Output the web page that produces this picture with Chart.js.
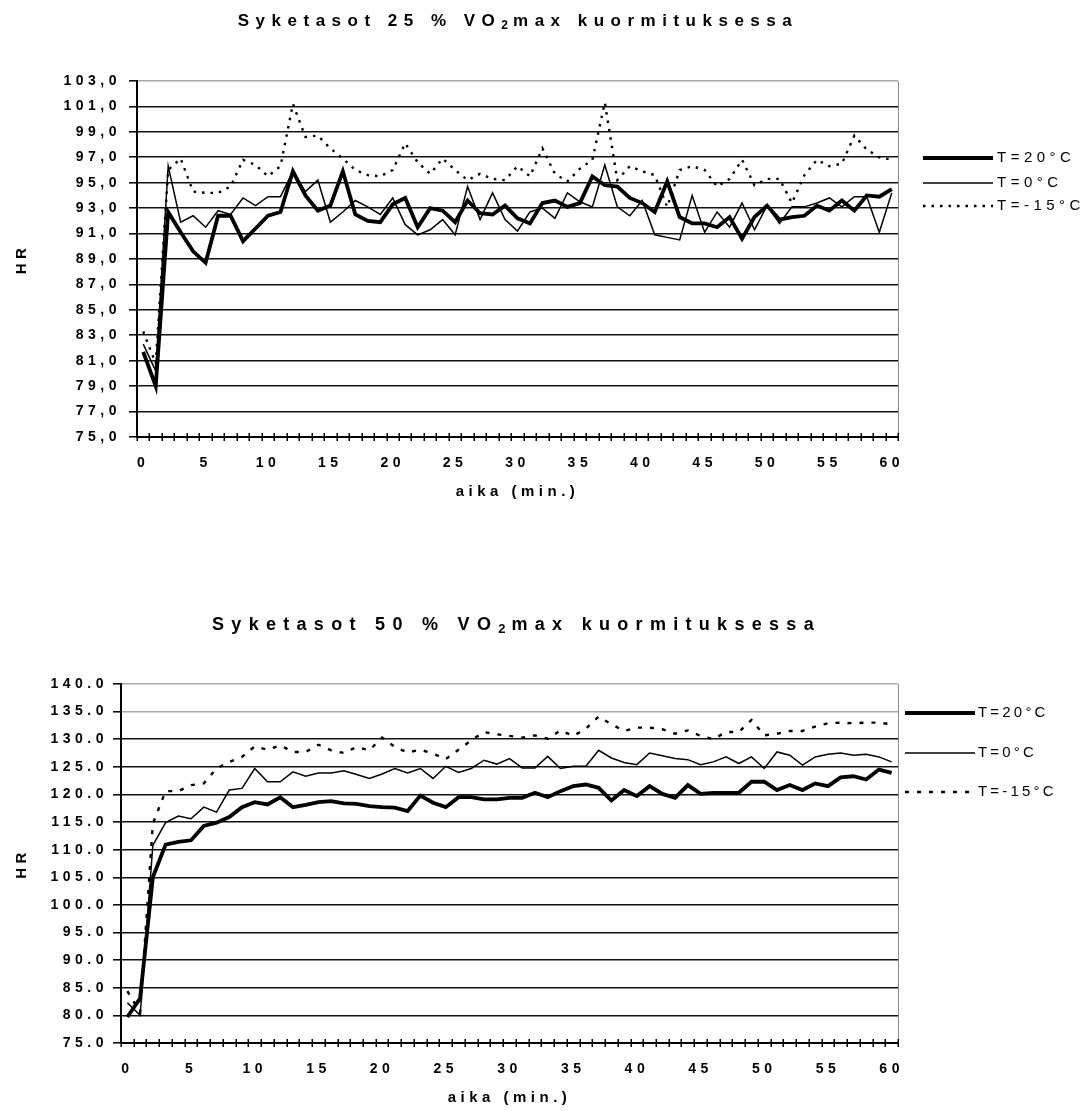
<!DOCTYPE html>
<html>
<head>
<meta charset="utf-8">
<script src="https://cdn.jsdelivr.net/npm/chart.js@4/dist/chart.umd.min.js"></script>
<style>
  html, body { margin: 0; padding: 0; background: #fff; }
  body { width: 1091px; height: 1111px; position: relative; overflow: hidden;
         font-family: "Liberation Sans", Arial, sans-serif; }
  canvas { position: absolute; left: 0; }
  .ttl { position: absolute; left: 0; width: 1036px; text-align: center; z-index: 2;
         font-weight: bold; font-size: 17px; line-height: 20px; letter-spacing: 6.5px; color: #000; }
  .ttl sub { font-size: 12px; line-height: 0; vertical-align: -3px; letter-spacing: 5px; }
  .ttl.big { font-size: 18px; letter-spacing: 7.3px; width: 1033px; }
  .ttl.big sub { font-size: 13px; letter-spacing: 6px; }
</style>
</head>
<body>
<canvas id="hr25" width="1091" height="530" style="top:0"></canvas>
<canvas id="hr50" width="1091" height="551" style="top:560px"></canvas>
<div class="ttl" style="top:11px">Syketasot 25 % VO<sub>2</sub>max kuormituksessa</div>
<div class="ttl big" style="top:614px">Syketasot 50 % VO<sub>2</sub>max kuormituksessa</div>
<script>
// Time axis (minutes)
const minutes = ['0','1','2','3','4','5','6','7','8','9','10','11','12','13','14','15','16','17','18','19','20',
  '21','22','23','24','25','26','27','28','29','30','31','32','33','34','35','36','37','38','39','40',
  '41','42','43','44','45','46','47','48','49','50','51','52','53','54','55','56','57','58','59','60'];

const seriesLabels = ['T=20°C', 'T=0°C', 'T=-15°C'];

// Heart rate at 25 % VO2max load
const hr25_t20 = [81.7, 79.0, 92.7, 91.1, 89.6, 88.7, 92.4, 92.4, 90.4, 91.4, 92.4, 92.7, 95.9, 94.0, 92.8, 93.2,
  95.9, 92.5, 92.0, 91.9, 93.3, 93.8, 91.5, 93.0, 92.8, 91.9, 93.6, 92.6, 92.5, 93.2, 92.2, 91.8, 93.4, 93.6,
  93.1, 93.4, 95.5, 94.8, 94.7, 93.8, 93.4, 92.7, 95.1, 92.3, 91.8, 91.8, 91.5, 92.3, 90.6, 92.3, 93.2, 92.1,
  92.3, 92.4, 93.2, 92.8, 93.6, 92.8, 94.0, 93.9, 94.5];
const hr25_t0 = [82.3, 80.2, 96.3, 91.9, 92.4, 91.5, 92.8, 92.5, 93.8, 93.2, 93.9, 93.9, 95.9, 94.3, 95.2, 91.9,
  92.7, 93.6, 93.1, 92.5, 93.8, 91.7, 90.9, 91.3, 92.1, 90.9, 94.7, 92.1, 94.2, 92.1, 91.2, 92.7, 93.0, 92.2,
  94.2, 93.5, 93.1, 96.4, 93.1, 92.4, 93.6, 90.9, 90.7, 90.5, 94.0, 91.1, 92.7, 91.5, 93.4, 91.3, 93.2, 91.8,
  93.1, 93.1, 93.4, 93.8, 93.1, 93.9, 93.9, 91.1, 94.2];
const hr25_tm15 = [83.3, 80.8, 96.0, 96.9, 94.3, 94.2, 94.2, 94.7, 96.8, 96.4, 95.5, 96.3, 101.2, 98.6, 98.7, 97.7,
  96.9, 96.0, 95.6, 95.5, 96.0, 98.1, 96.6, 95.7, 96.9, 96.0, 95.2, 95.7, 95.3, 95.2, 96.3, 95.5, 97.7, 95.7,
  95.1, 96.1, 96.8, 101.3, 95.2, 96.3, 95.9, 95.6, 93.1, 96.0, 96.3, 96.0, 94.7, 95.3, 96.8, 94.8, 95.3, 95.3,
  93.4, 95.6, 96.8, 96.3, 96.5, 98.7, 97.6, 97.0, 96.8];

// Heart rate at 50 % VO2max load
const hr50_t20 = [79.7, 83.1, 105.0, 110.9, 111.4, 111.7, 114.3, 114.9, 115.9, 117.7, 118.6, 118.2, 119.5, 117.7,
  118.1, 118.6, 118.8, 118.4, 118.3, 117.9, 117.7, 117.6, 117.0, 119.8, 118.5, 117.7, 119.5, 119.5, 119.1, 119.1,
  119.4, 119.4, 120.3, 119.5, 120.6, 121.5, 121.8, 121.2, 118.9, 120.8, 119.7, 121.5, 120.1, 119.4, 121.7, 120.1,
  120.3, 120.3, 120.3, 122.3, 122.3, 120.8, 121.7, 120.8, 122.0, 121.5, 123.1, 123.3, 122.7, 124.5, 123.9];
const hr50_t0 = [82.3, 80.0, 110.8, 114.9, 116.1, 115.6, 117.7, 116.8, 120.8, 121.1, 124.7, 122.3, 122.3, 124.1,
  123.3, 123.9, 123.9, 124.3, 123.6, 122.9, 123.7, 124.7, 123.9, 124.7, 122.9, 125.1, 124.0, 124.7, 126.2, 125.5,
  126.5, 124.8, 124.8, 126.9, 124.7, 125.1, 125.1, 128.0, 126.6, 125.8, 125.4, 127.5, 127.0, 126.5, 126.3, 125.4,
  125.9, 126.8, 125.6, 126.8, 124.7, 127.7, 127.1, 125.3, 126.8, 127.3, 127.5, 127.1, 127.3, 126.8, 125.9];
const hr50_tm15 = [84.4, 80.5, 114.7, 120.6, 120.6, 121.7, 122.0, 124.7, 125.9, 126.8, 128.7, 128.1, 128.9, 127.7,
  127.7, 129.0, 128.0, 127.5, 128.6, 128.0, 130.3, 128.6, 127.6, 128.1, 127.4, 126.4, 128.1, 129.8, 131.3, 130.9,
  130.6, 130.3, 130.7, 130.1, 131.6, 130.6, 131.9, 134.1, 132.7, 131.5, 132.1, 132.1, 131.8, 131.0, 131.6, 130.6,
  130.0, 131.3, 131.3, 133.5, 130.7, 131.0, 131.5, 131.5, 132.3, 132.9, 133.0, 132.9, 133.0, 133.0, 132.7];

const FONT = '"Liberation Sans", Arial, sans-serif';

// Wide letter spacing for every canvas text drawn by the library
const spacing = {
  id: 'spacing',
  beforeUpdate(chart, args, o) { chart.ctx.letterSpacing = o.value; },
  beforeLayout(chart, args, o) { chart.ctx.letterSpacing = o.value; },
  beforeDraw(chart, args, o) { chart.ctx.letterSpacing = o.value; }
};

// Minute tick marks crossing the time axis, plus the thin right frame
const axisMarks = {
  id: 'axisMarks',
  afterDraw(chart) {
    const xs = chart.scales.x, a = chart.chartArea, ctx = chart.ctx;
    ctx.save();
    ctx.strokeStyle = '#8c8c8c';
    ctx.lineWidth = 1;
    ctx.beginPath();
    ctx.moveTo(a.right + 0.5, a.top);
    ctx.lineTo(a.right + 0.5, a.bottom);
    ctx.stroke();
    ctx.strokeStyle = '#000';
    ctx.lineWidth = 1.5;
    ctx.beginPath();
    for (let i = 0; i <= minutes.length; i++) {
      const px = Math.round(xs.getPixelForValue(i - 0.5)) + 0.25;
      ctx.moveTo(px, a.bottom - 4);
      ctx.lineTo(px, a.bottom + 4);
    }
    ctx.stroke();
    ctx.restore();
  }
};

// Legend on the right: a line sample in each series' own style, then its label
const sideLegend = {
  id: 'sideLegend',
  afterDraw(chart, args, o) {
    const ctx = chart.ctx;
    chart.data.datasets.forEach((ds, i) => {
      const y = o.rows[i];
      ctx.save();
      ctx.strokeStyle = ds.borderColor;
      ctx.lineWidth = ds.borderWidth;
      ctx.setLineDash(ds.borderDash || []);
      ctx.beginPath();
      ctx.moveTo(o.x, y);
      ctx.lineTo(o.x + o.len, y);
      ctx.stroke();
      ctx.letterSpacing = o.letterSpacing;
      ctx.font = '15px ' + FONT;
      ctx.fillStyle = '#000';
      ctx.textBaseline = 'middle';
      ctx.textAlign = 'left';
      ctx.fillText(ds.label, o.x + o.len + o.gap, y);
      ctx.restore();
    });
  }
};

function makeChart(id, cfg) {
  const faint = cfg.faint;
  return new Chart(document.getElementById(id), {
    type: 'line',
    data: {
      labels: minutes,
      datasets: [
        { label: seriesLabels[0], data: cfg.series[0], borderColor: '#000', borderWidth: 3.8 },
        { label: seriesLabels[1], data: cfg.series[1], borderColor: '#000', borderWidth: 1.5 },
        { label: seriesLabels[2], data: cfg.series[2], borderColor: '#000', borderWidth: 2.4, borderDash: cfg.dash }
      ].map(d => Object.assign(d, { pointRadius: 0, pointHoverRadius: 0, tension: 0, fill: false,
                                     borderJoinStyle: 'miter', borderCapStyle: 'butt' }))
    },
    options: {
      responsive: false,
      animation: false,
      events: [],
      layout: { padding: { top: cfg.top, right: 193, bottom: 0, left: 0 } },
      scales: {
        x: {
          type: 'category',
          offset: true,
          afterFit: s => { s.height = cfg.xHeight; },
          grid: { display: false, drawTicks: false },
          border: { display: true, color: '#000', width: 2 },
          ticks: {
            autoSkip: false, maxRotation: 0, padding: 18, color: '#000',
            font: { family: FONT, size: 14, weight: 'bold' },
            callback: (v, i) => (i % 5 === 0 ? minutes[i] : '')
          },
          title: { display: true, text: 'aika (min.)', color: '#000',
                   font: { family: FONT, size: 15, weight: 'bold' },
                   padding: { top: 0, bottom: cfg.xTitlePad } }
        },
        y: {
          min: cfg.min, max: cfg.max,
          afterFit: s => { s.width = cfg.yWidth; },
          grid: {
            color: c => (c.tick && faint.includes(c.tick.value) ? '#a8a8a8' : '#121212'),
            lineWidth: 1.6, tickLength: 8, tickColor: '#000', tickWidth: 1.5
          },
          border: { display: true, color: '#000', width: 2 },
          ticks: {
            stepSize: cfg.step, padding: cfg.yPad, color: '#000',
            font: { family: FONT, size: 14, weight: 'bold' },
            callback: v => cfg.fmt(v)
          },
          title: { display: true, text: 'HR', color: '#000',
                   font: { family: FONT, size: 15, weight: 'bold' },
                   padding: { top: 13, bottom: 0 } }
        }
      },
      plugins: {
        legend: { display: false },
        tooltip: { enabled: false },
        title: { display: false },
        spacing: { value: '4.5px' },
        sideLegend: cfg.legend
      }
    },
    plugins: [spacing, axisMarks, sideLegend]
  });
}

makeChart('hr25', {
  series: [hr25_t20, hr25_t0, hr25_tm15],
  min: 75, max: 103, step: 2, faint: [103],
  fmt: v => v.toFixed(1).replace('.', ','),
  top: 81, xHeight: 93, xTitlePad: 29, yWidth: 137, yPad: 8,
  dash: [2.5, 6],
  legend: { x: 923, len: 70, gap: 4, rows: [158, 183, 206], letterSpacing: '4.5px' }
});

makeChart('hr50', {
  series: [hr50_t20, hr50_t0, hr50_tm15],
  min: 75, max: 140, step: 5, faint: [140, 135],
  fmt: v => v.toFixed(1),
  top: 124, xHeight: 68, xTitlePad: 4, yWidth: 121, yPad: 5,
  dash: [4, 8],
  legend: { x: 905, len: 70, gap: 3, rows: [153, 193, 232], letterSpacing: '3.2px' }
});
</script>
</body>
</html>
